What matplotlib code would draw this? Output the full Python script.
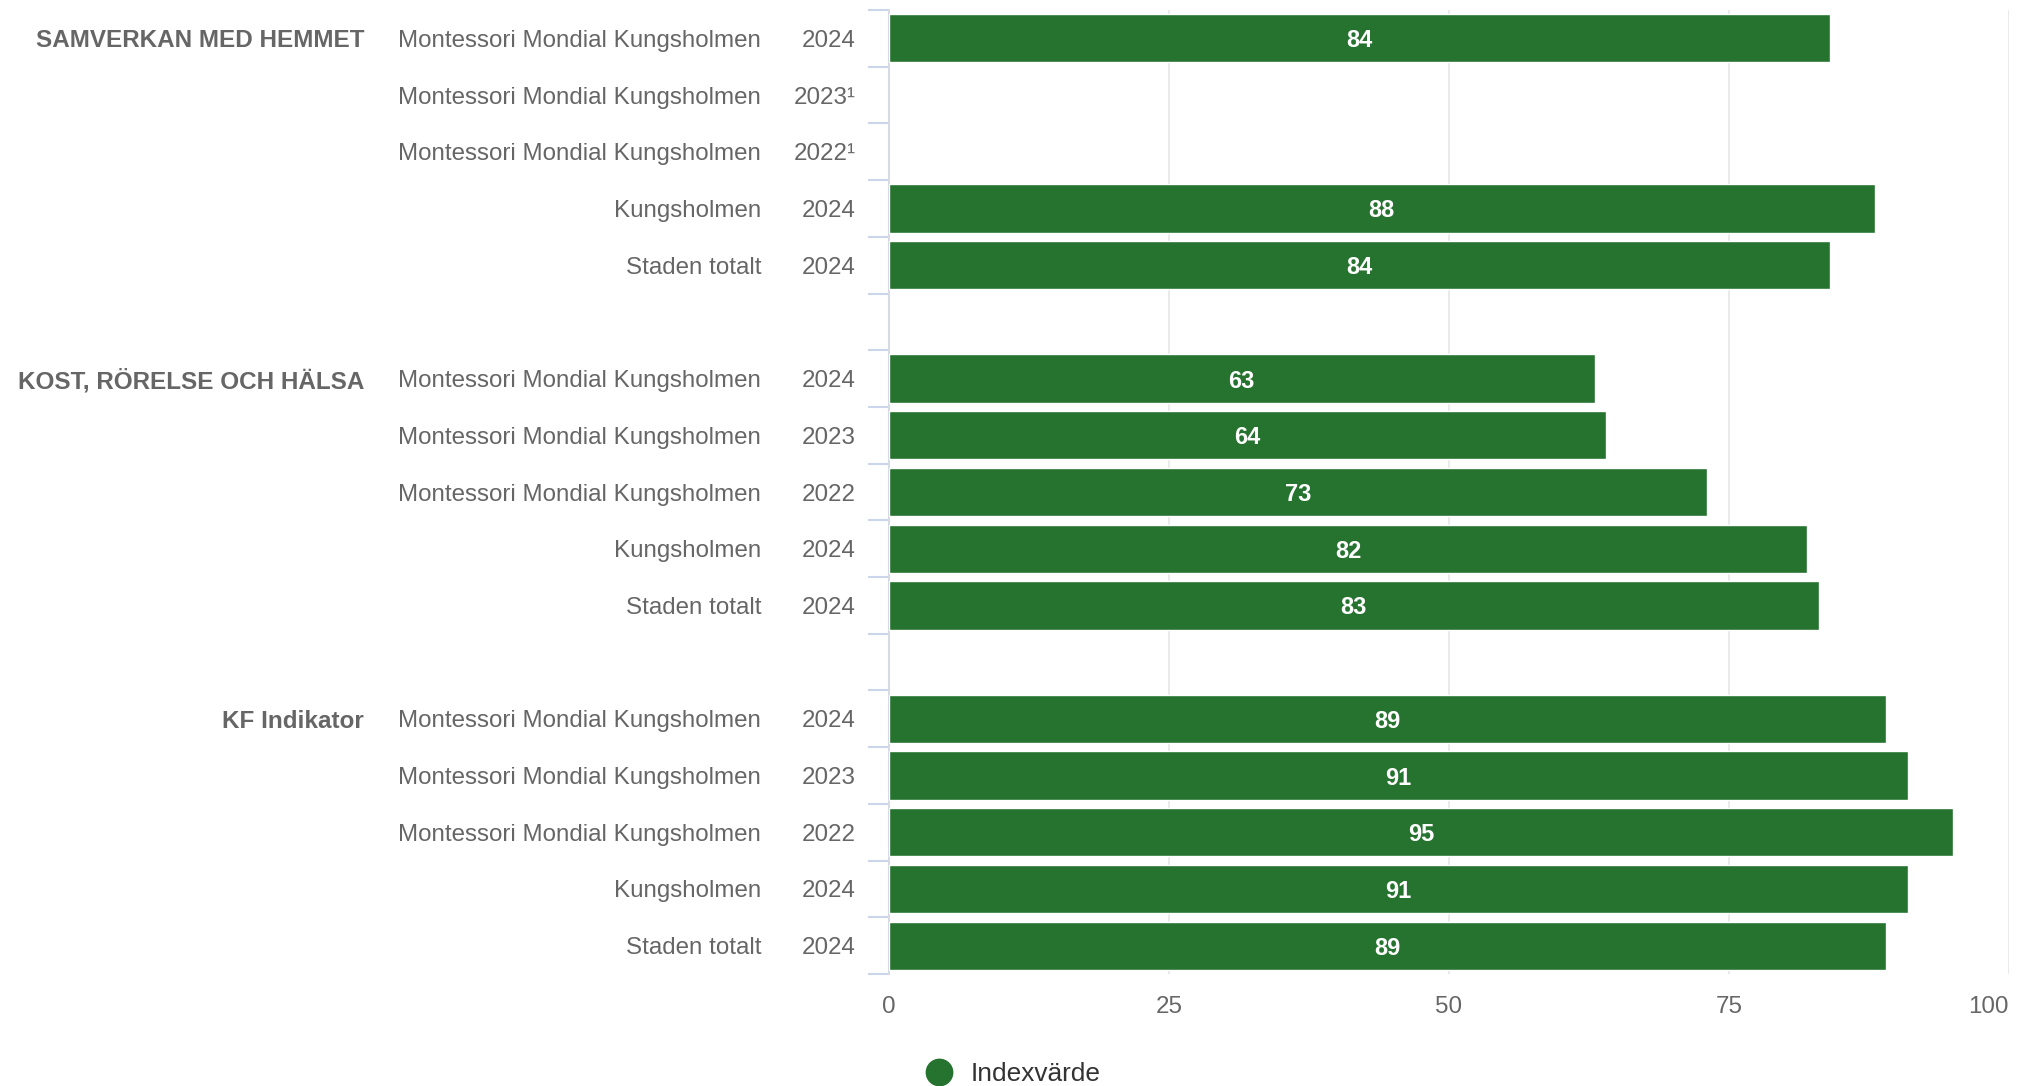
import matplotlib
matplotlib.use("Agg")
import matplotlib.pyplot as plt
from matplotlib.transforms import blended_transform_factory
from matplotlib.lines import Line2D

plt.rcParams['font.family'] = ['Liberation Sans', 'DejaVu Sans']

# data
groups = ["SAMVERKAN MED HEMMET", "KOST, RÖRELSE OCH HÄLSA", "KF Indikator"]
names = ["Montessori Mondial Kungsholmen", "Montessori Mondial Kungsholmen",
         "Montessori Mondial Kungsholmen", "Kungsholmen", "Staden totalt"]
years_samverkan = ["2024", "2023¹", "2022¹", "2024", "2024"]
years_kost = ["2024", "2023", "2022", "2024", "2024"]
years_kf = ["2024", "2023", "2022", "2024", "2024"]
vals_samverkan = [84, None, None, 88, 84]
vals_kost = [63, 64, 73, 82, 83]
vals_kf = [89, 91, 95, 91, 89]
xticks = [0, 25, 50, 75, 100]

all_years = [years_samverkan, years_kost, years_kf]
all_vals = [vals_samverkan, vals_kost, vals_kf]

green = '#267330'
grey_txt = '#666666'
W, H = 2018, 1086

fig = plt.figure(figsize=(W / 100, H / 100), dpi=100)
ax = fig.add_axes([889 / W, 1 - 974 / H, 1120 / W, 964 / H])

n_slots = 17
trans = blended_transform_factory(fig.transFigure, ax.transData)

for g in range(3):
    for i in range(5):
        y = g * 6 + i
        v = all_vals[g][i]
        if v is not None:
            ax.barh(y, v, height=0.85, color=green, edgecolor='white', linewidth=1, zorder=3)
            ax.text(v / 2, y, str(v), ha='center', va='center_baseline', color='white',
                    fontsize=17, fontweight='bold', zorder=4)
        ax.text(761 / W, y, names[i], transform=trans, ha='right', va='center_baseline',
                fontsize=17.4, color=grey_txt)
        ax.text(856 / W, y, all_years[g][i], transform=trans, ha='right', va='center_baseline',
                fontsize=17.4, color=grey_txt)
    ax.text(364 / W, g * 6, groups[g], transform=trans, ha='right', va='center_baseline',
            fontsize=17.5, color=grey_txt, fontweight='bold')

ax.set_xlim(0, 100)
ax.set_ylim(n_slots - 0.5, -0.5)

ax.set_xticks(xticks)
ax.set_xticklabels([str(t) for t in xticks])
ax.tick_params(axis='x', length=0, pad=16, labelsize=17.4, labelcolor=grey_txt)
ax.get_xticklabels()[-1].set_horizontalalignment('right')
ax.grid(axis='x', color='#e6e6e6', linewidth=1.2, zorder=0)

ax.set_yticks([k + 0.5 for k in range(-1, n_slots)])
ax.set_yticklabels([])
ax.tick_params(axis='y', length=15, width=1.5, color='#ccd6eb')

for side in ['top', 'right', 'bottom']:
    ax.spines[side].set_visible(False)
ax.spines['left'].set_color('#d5dae3')
ax.spines['left'].set_linewidth(1.5)

handle = Line2D([], [], marker='o', linestyle='none', color=green, markersize=19)
fig.legend([handle], ['Indexvärde'], loc='center left',
           bbox_to_anchor=(902 / W, 1 - 1074 / H), frameon=False,
           fontsize=18.9, labelcolor='#333333', handlelength=1.0, handletextpad=0.7)

fig.savefig('out.png', dpi=100)
